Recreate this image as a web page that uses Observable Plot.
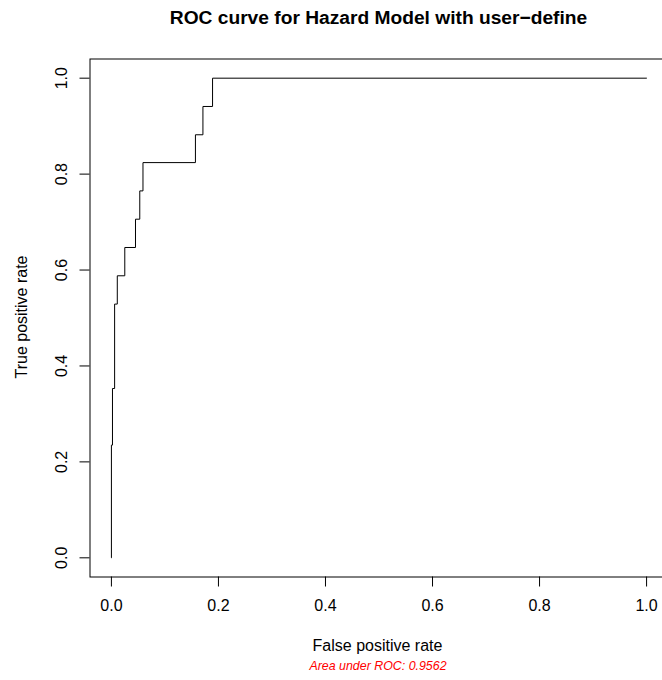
<!DOCTYPE html>
<html>
<head>
<meta charset="utf-8">
<script src="https://cdn.jsdelivr.net/npm/d3@7"></script>
<script src="https://cdn.jsdelivr.net/npm/@observablehq/plot@0.6"></script>
<style>
  html, body { margin: 0; padding: 0; background: #fff; overflow: hidden; }
  body { width: 662px; height: 680px; position: relative; font-family: "Liberation Sans", Arial, sans-serif; }
  .t { position: absolute; white-space: nowrap; line-height: 1; color: #000; }
  #chart { position: absolute; left: 0; top: 0; width: 670px; height: 680px; }
  #chart svg { max-width: none !important; width: 670px !important; height: 680px !important; }
</style>
</head>
<body>
<div id="chart"></div>
<div class="t" id="title" style="font-weight:bold;font-size:19.2px;left:378.5px;top:7.8px;transform:translateX(-50%);">ROC curve for Hazard Model with user−define</div>
<div class="t" id="xlab" style="font-size:16px;left:377.5px;top:638.2px;transform:translateX(-50%);">False positive rate</div>
<div class="t" id="ylab" style="font-size:16px;width:300px;height:16px;text-align:center;left:-128.5px;top:309.3px;transform:rotate(-90deg);">True positive rate</div>
<div class="t" id="cap" style="font-size:12.4px;font-style:italic;color:#ff0000;left:378px;top:660.2px;transform:translateX(-50%);">Area under ROC: 0.9562</div>
<script>
// ROC curve points (false positive rate, true positive rate)
const fpr = [0, 0, 0.002, 0.006, 0.011, 0.025, 0.045, 0.053, 0.059, 0.157, 0.171, 0.189, 1];
const tpr = [0, 0.235, 0.353, 0.529, 0.588, 0.647, 0.706, 0.765, 0.824, 0.882, 0.941, 1, 1];
const xTicks = [0, 0.2, 0.4, 0.6, 0.8, 1.0];
const yTicks = [0, 0.2, 0.4, 0.6, 0.8, 1.0];

const roc = fpr.map((x, i) => ({fpr: x, tpr: tpr[i]}));
const fmt = d => d.toFixed(1);

const plot = Plot.plot({
  width: 670,
  height: 680,
  marginLeft: 89.5,
  marginRight: 2.5,
  marginTop: 58.5,
  marginBottom: 103.5,
  style: {background: "#fff", color: "#000", fontFamily: "'Liberation Sans', Arial, sans-serif", fontSize: "16px", maxWidth: "none"},
  x: {domain: [-0.04, 1.04]},
  y: {domain: [-0.04, 1.04]},
  marks: [
    Plot.frame({stroke: "#000"}),
    Plot.axisX(xTicks, {tickFormat: fmt, tickSize: 10, tickPadding: 13, label: null, fontSize: 16}),
    Plot.axisY(yTicks, {tickFormat: fmt, tickSize: 10, tickPadding: 13, tickRotate: -90, label: null, fontSize: 16}),
    Plot.line(roc, {x: "fpr", y: "tpr", curve: "step-after", stroke: "#000", strokeWidth: 1})
  ]
});
document.getElementById("chart").appendChild(plot);
</script>
</body>
</html>
